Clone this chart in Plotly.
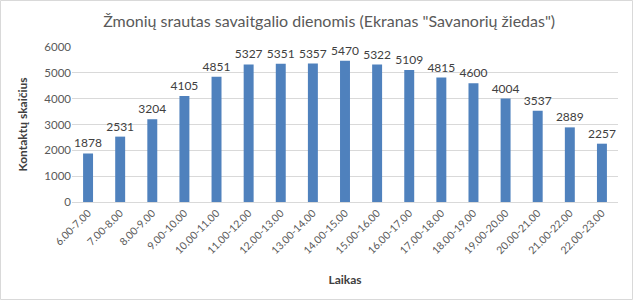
import plotly.graph_objects as go

categories = ["6.00-7.00", "7.00-8.00", "8.00-9.00", "9.00-10.00", "10.00-11.00",
              "11.00-12.00", "12.00-13.00", "13.00-14.00", "14.00-15.00", "15.00-16.00",
              "16.00-17.00", "17.00-18.00", "18.00-19.00", "19.00-20.00", "20.00-21.00",
              "21.00-22.00", "22.00-23.00"]
values = [1878, 2531, 3204, 4105, 4851, 5327, 5351, 5357, 5470, 5322,
          5109, 4815, 4600, 4004, 3537, 2889, 2257]
y_ticks = [0, 1000, 2000, 3000, 4000, 5000, 6000]

W, H = 633, 300
L, R, T, B = 72, 15, 47, 98
FONT = "Lato"

fig = go.Figure(go.Bar(
    x=categories, y=values,
    marker=dict(color="#4f81bd", line=dict(width=0)),
    width=0.31,
    text=[str(v) for v in values], textposition="outside",
    constraintext="none",
    textfont=dict(family=FONT, size=12, color="#404040"),
    cliponaxis=False,
))

fig.update_layout(
    width=W, height=H,
    margin=dict(l=L, r=R, t=T, b=B),
    paper_bgcolor="white", plot_bgcolor="white",
    showlegend=False,
    title=dict(text='Žmonių srautas savaitgalio dienomis (Ekranas "Savanorių žiedas")',
               x=0.52, xanchor="center", y=0.93, yanchor="middle",
               font=dict(family=FONT, size=16, color="#595959")),
    xaxis=dict(tickangle=-45, tickfont=dict(family=FONT, size=10.5, color="#595959"),
               showgrid=False, showline=True, linecolor="#d9d9d9", linewidth=1,
               ticks="", title=dict(text="<b>Laikas</b>", standoff=20,
                                    font=dict(family=FONT, size=12, color="#404040"))),
    yaxis=dict(range=[0, 6000], tickvals=y_ticks, showgrid=True, gridcolor="#d9d9d9",
               zeroline=False, showline=False, ticks="",
               tickfont=dict(family=FONT, size=11.5, color="#595959"),
               title=dict(text="<b>Kontaktų skaičius</b>", standoff=14,
                          font=dict(family=FONT, size=12, color="#404040"))),
    bargap=0.69,
)

pw, ph = W - L - R, H - T - B
fig.add_shape(type="rect", xref="paper", yref="paper",
              x0=(-L + 0.5) / pw, x1=(pw + R - 0.5) / pw,
              y0=(-B + 0.5) / ph, y1=(ph + T - 0.5) / ph,
              line=dict(color="#d9d9d9", width=1), layer="below")

fig.write_html("out.html")
